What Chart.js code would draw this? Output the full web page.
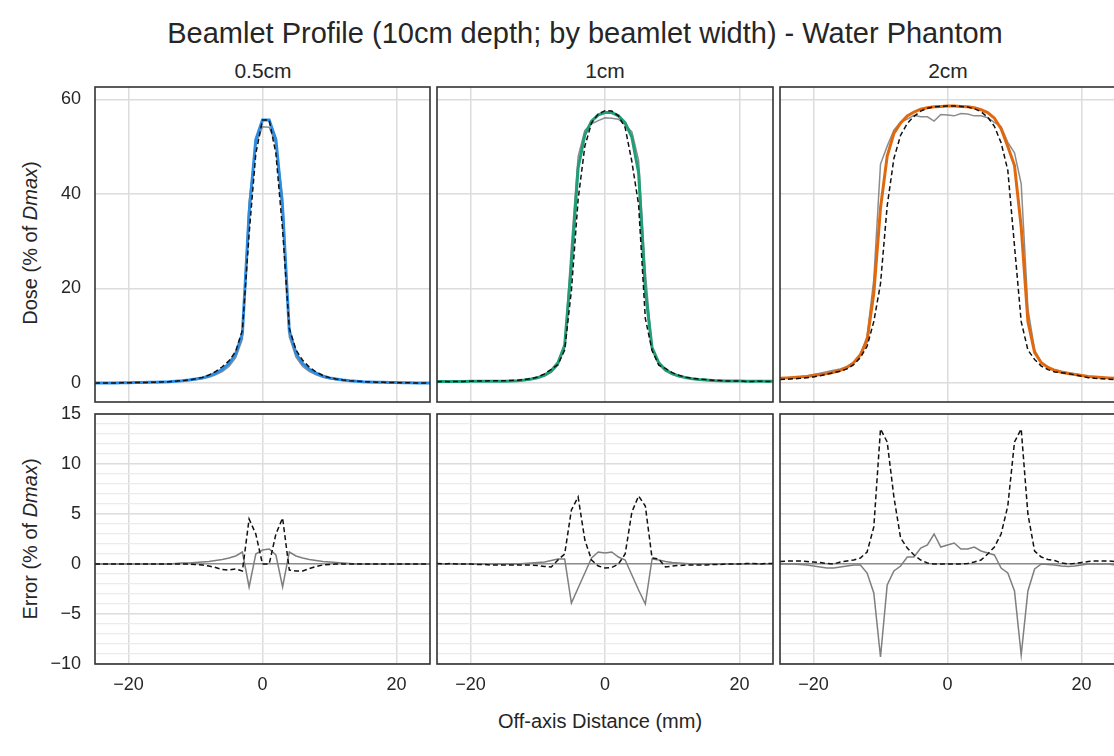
<!DOCTYPE html>
<html><head><meta charset="utf-8">
<script src="https://cdn.jsdelivr.net/npm/chart.js@4.4.1/dist/chart.umd.min.js"></script>
<style>
html,body{margin:0;padding:0;background:#fff;overflow:hidden;}
#fig{position:relative;width:1114px;height:756px;overflow:hidden;background:#fff;font-family:"Liberation Sans",Arial,sans-serif;color:#262626;}
#fig canvas{position:absolute;}
.t{position:absolute;white-space:nowrap;transform:translate(-50%,-50%);}
.yl{position:absolute;white-space:nowrap;transform:translate(-50%,-50%) rotate(-90deg);}
</style></head><body>
<div id="fig">
  <div class="t" style="left:585px;top:33px;font-size:29px">Beamlet Profile (10cm depth; by beamlet width) - Water Phantom</div>
  <div class="t" style="left:263px;top:71px;font-size:21px">0.5cm</div>
  <div class="t" style="left:605px;top:71px;font-size:21px">1cm</div>
  <div class="t" style="left:948px;top:71px;font-size:21px">2cm</div>
  <div class="yl" style="left:30px;top:243px;font-size:20px">Dose (% of <i>Dmax</i>)</div>
  <div class="yl" style="left:30px;top:539px;font-size:20px">Error (% of <i>Dmax</i>)</div>
  <div class="t" style="left:600px;top:721px;font-size:20px">Off-axis Distance (mm)</div>
</div>
<script>
// ---------- data (x in mm, values in % of Dmax) ----------
const xs = [-25,-24,-23,-22,-21,-20,-19,-18,-17,-16,-15,-14,-13,-12,-11,-10,-9,-8,-7,-6,-5,-4,-3,-2,-1,0,1,2,3,4,5,6,7,8,9,10,11,12,13,14,15,16,17,18,19,20,21,22,23,24,25];
const panelTitles = ['0.5cm','1cm','2cm'];
const xTicks = [-20,0,20];
const doseTicks = [0,20,40,60];
const errMajorTicks = [-10,-5,0,5,10,15];

// 0.5cm beamlet
const model05 = [0,0,0,0,0.05,0.05,0.1,0.1,0.15,0.2,
  0.25,0.3,0.4,0.5,0.65,0.85,1.1,1.5,2.1,2.9,
  4.1,6.2,10.5,36.0,51.5,55.6,55.6,51.5,37.0,11.0,
  6.3,4.1,2.9,2.1,1.5,1.1,0.85,0.65,0.5,0.4,
  0.3,0.25,0.2,0.15,0.1,0.1,0.05,0.05,0,0,0];
const meas05 = [0,0,0,0,0.05,0.05,0.1,0.1,0.15,0.2,
  0.25,0.3,0.35,0.4,0.55,0.7,0.9,1.25,1.75,2.45,
  3.5,5.4,9.3,38.3,50.5,54.2,54.1,50.6,39.3,9.8,
  5.5,3.5,2.45,1.75,1.25,0.9,0.7,0.55,0.45,0.4,
  0.3,0.25,0.2,0.15,0.1,0.1,0.05,0.05,0,0,0];
const ref05 = [0,0,0,0,0.05,0.05,0.1,0.1,0.15,0.2,
  0.25,0.3,0.4,0.5,0.65,0.9,1.2,1.7,2.45,3.45,
  4.7,6.7,11.2,31.5,48.5,55.6,55.6,48.5,32.4,11.6,
  7.0,4.8,3.35,2.35,1.6,1.15,0.85,0.65,0.5,0.4,
  0.3,0.25,0.2,0.15,0.1,0.1,0.05,0.05,0,0,0];
const errMeas05 = [0,0,0,0,0,0,0,0,0,0,
  0,0,0.05,0.1,0.1,0.15,0.2,0.25,0.35,0.45,
  0.6,0.8,1.2,-2.3,1.0,1.4,1.5,0.9,-2.3,1.2,
  0.8,0.6,0.45,0.35,0.25,0.2,0.15,0.1,0.05,0,
  0,0,0,0,0,0,0,0,0,0,0];
const errRef05 = [0,0,0,0,0,0,0,0,0,0,
  0,0,0,0,0,-0.05,-0.1,-0.2,-0.35,-0.55,
  -0.6,-0.5,-0.7,4.5,3.0,0,0,3.0,4.6,-0.6,
  -0.7,-0.7,-0.45,-0.25,-0.1,-0.05,0,0,0,0,
  0,0,0,0,0,0,0,0,0,0,0];

// 1cm beamlet
const model1 = [0.35,0.35,0.35,0.35,0.35,0.4,0.4,0.4,0.4,0.4,
  0.4,0.45,0.5,0.65,0.85,1.15,1.7,2.6,4.3,8.0,
  25.0,45.5,52.5,55.4,56.7,57.2,57.2,56.5,55.0,52.0,
  44.5,19.5,7.5,4.3,2.8,2.0,1.5,1.15,0.9,0.75,
  0.65,0.55,0.5,0.45,0.45,0.45,0.4,0.4,0.4,0.4,0.4];
const meas1 = [0.35,0.35,0.35,0.35,0.35,0.4,0.4,0.4,0.4,0.4,
  0.4,0.45,0.5,0.6,0.75,1.0,1.5,2.25,3.8,7.5,
  28.9,47.9,53.4,54.8,55.5,56.1,56.0,55.8,54.6,53.1,
  47.1,23.5,7.0,3.9,2.55,1.85,1.4,1.1,0.9,0.75,
  0.65,0.55,0.5,0.45,0.45,0.45,0.4,0.4,0.4,0.4,0.4];
const ref1 = [0.3,0.35,0.3,0.35,0.35,0.4,0.45,0.45,0.5,0.5,
  0.5,0.55,0.6,0.75,0.95,1.3,1.95,2.9,3.9,7.0,
  19.6,38.8,50.1,55.0,56.9,57.6,57.55,56.5,54.0,46.8,
  37.7,13.7,6.9,3.8,3.1,2.2,1.65,1.25,1.0,0.85,
  0.75,0.6,0.55,0.45,0.45,0.45,0.35,0.35,0.4,0.35,0.35];
const errMeas1 = [0,0,0,0,0,0,0,0,0,0,
  0,0,0,0.05,0.1,0.15,0.2,0.35,0.5,0.5,
  -3.9,-2.4,-0.9,0.6,1.2,1.1,1.2,0.7,0.4,-1.1,
  -2.6,-4.0,0.5,0.4,0.25,0.15,0.1,0.05,0,0,
  0,0,0,0,0,0,0,0,0,0,0];
const errRef1 = [0.05,0,0.05,0,0,0,-0.05,-0.05,-0.1,-0.1,
  -0.1,-0.1,-0.1,-0.1,-0.1,-0.15,-0.25,-0.3,0.4,1.0,
  5.4,6.7,2.4,0.4,-0.2,-0.4,-0.35,0,1.0,5.2,
  6.8,5.8,0.6,0.5,-0.3,-0.2,-0.15,-0.1,-0.1,-0.1,
  -0.1,-0.05,-0.05,0,0,0,0.05,0.05,0,0.05,0.05];

// 2cm beamlet
const model2 = [1.0,1.1,1.2,1.3,1.4,1.6,1.8,2.0,2.3,2.7,
  3.3,4.3,6.0,9.0,19.0,37.0,48.0,52.8,55.0,56.5,
  57.3,57.9,58.2,58.4,58.5,58.6,58.6,58.5,58.4,58.2,
  57.8,57.2,56.0,53.8,50.0,46.0,33.0,13.0,6.5,4.3,
  3.3,2.7,2.3,2.0,1.8,1.6,1.4,1.3,1.2,1.1,1.0];
const meas2 = [1.0,1.1,1.2,1.35,1.5,1.8,2.1,2.4,2.7,3.0,
  3.5,4.4,6.1,9.9,21.9,46.3,50.1,53.5,55.2,55.8,
  56.6,56.3,56.3,55.4,56.8,56.7,56.5,57.0,56.9,56.5,
  56.5,56.1,55.1,54.2,50.9,48.7,42.1,15.7,7.0,4.3,
  3.35,2.8,2.5,2.25,2.0,1.7,1.4,1.3,1.2,1.1,1.1];
const ref2 = [0.75,0.8,0.9,1.0,1.15,1.3,1.55,1.9,2.2,2.5,
  3.0,3.9,5.4,7.8,13.0,21.0,37.5,47.5,52.4,54.9,
  56.4,57.5,58.1,58.4,58.5,58.6,58.6,58.5,58.35,58.0,
  57.4,56.2,54.3,50.8,45.0,29.0,13.0,7.0,5.0,3.6,
  2.85,2.35,2.2,2.0,1.75,1.45,1.15,1.0,0.9,0.8,0.75];
const errMeas2 = [0,0,0,-0.05,-0.1,-0.2,-0.3,-0.4,-0.4,-0.3,
  -0.2,-0.1,-0.1,-0.9,-2.9,-9.3,-2.1,-0.7,-0.2,0.7,
  0.7,1.6,1.9,3.0,1.7,1.9,2.1,1.5,1.5,1.7,
  1.3,1.1,0.9,-0.4,-0.9,-2.7,-9.1,-2.7,-0.5,0,
  -0.05,-0.1,-0.2,-0.25,-0.2,-0.1,0,0,0,0,-0.1];
const errRef2 = [0.25,0.3,0.3,0.3,0.25,0.2,0.15,0.05,0,0.2,
  0.3,0.4,0.6,1.2,3.7,13.5,12.2,6.7,2.6,1.6,
  0.9,0.4,0.1,0,0,0,0,0,0.05,0.2,
  0.4,1.0,1.7,3.0,5.8,12.2,13.5,5.0,1.3,0.7,
  0.45,0.35,0.1,0,0.05,0.15,0.25,0.3,0.3,0.3,0.25];

// ---------- layout / styles ----------
const modelColors = ['#2b8ce4','#1f9e78','#e0690f'];
const colLeft = [95, 437, 780], colWidth = [335, 336, 335];
const rows = {top:{top:87,h:315,min:-4,max:62.6}, bottom:{top:414,h:250,min:-10,max:15}};
const PAD = 12, YW = 50, XH = 40;
const TXT = '#262626', GRID = '#dcdcdc', MINOR = '#ececec', FRAME = '#333333';
Chart.defaults.font.family = '"Liberation Sans", Arial, sans-serif';

const pts = arr => xs.map((x, i) => ({x: x, y: arr[i]}));
const fmt = v => (v < 0 ? '\u2212' + Math.abs(v) : String(v));

const framePlugin = {
  id: 'frame',
  afterDraw(chart) {
    const a = chart.chartArea, ctx = chart.ctx;
    ctx.save();
    ctx.strokeStyle = FRAME; ctx.lineWidth = 1.6;
    ctx.strokeRect(a.left, a.top, a.right - a.left, a.bottom - a.top);
    ctx.restore();
  }
};

function makeChart(rowKey, col, datasets) {
  const r = rows[rowKey];
  const yw = col === 0 ? YW : 0;
  const xh = rowKey === 'bottom' ? XH : 0;
  const cv = document.createElement('canvas');
  const w = colWidth[col] + 2 * PAD + yw, h = r.h + 2 * PAD + xh;
  cv.width = w; cv.height = h;
  cv.style.width = w + 'px'; cv.style.height = h + 'px';
  cv.style.left = (colLeft[col] - PAD - yw) + 'px';
  cv.style.top = (r.top - PAD) + 'px';
  document.getElementById('fig').appendChild(cv);

  const isErr = rowKey === 'bottom';
  new Chart(cv.getContext('2d'), {
    type: 'line',
    data: {datasets: datasets},
    options: {
      responsive: false, animation: false, devicePixelRatio: 1,
      layout: {padding: PAD},
      plugins: {legend: {display: false}, tooltip: {enabled: false}},
      elements: {point: {radius: 0}, line: {tension: 0}},
      scales: {
        x: {
          type: 'linear', min: -25, max: 25,
          afterBuildTicks: s => { s.ticks = xTicks.map(v => ({value: v})); },
          ticks: {display: isErr, autoSkip: false, maxRotation: 0, padding: 10,
                  color: TXT, font: {size: 18}, callback: v => fmt(v)},
          grid: {color: GRID, lineWidth: 1.5, drawTicks: false},
          border: {display: false},
          afterFit: s => { s.height = xh; s.paddingLeft = 0; s.paddingRight = 0; }
        },
        y: {
          type: 'linear', min: r.min, max: r.max,
          afterBuildTicks: s => {
            if (isErr) {
              const t = [];
              for (let v = r.min; v <= r.max; v++) t.push({value: v});
              s.ticks = t;
            } else {
              s.ticks = doseTicks.map(v => ({value: v}));
            }
          },
          ticks: {display: col === 0, autoSkip: false, padding: 14, color: TXT, font: {size: 18},
                  callback: v => (!isErr || errMajorTicks.includes(v)) ? fmt(v) : ''},
          grid: {
            drawTicks: false,
            color: c => {
              const v = c.tick ? c.tick.value : 0;
              if (!isErr) return GRID;
              if (v === 0) return '#8c8c8c';
              return v % 5 === 0 ? GRID : MINOR;
            },
            lineWidth: c => {
              const v = c.tick ? c.tick.value : 0;
              if (!isErr) return 1.5;
              return v % 5 === 0 ? 1.5 : 1.2;
            }
          },
          border: {display: false},
          afterFit: s => { s.width = yw; s.paddingTop = 0; s.paddingBottom = 0; }
        }
      }
    },
    plugins: [framePlugin]
  });
}

const models = [model05, model1, model2];
const meass = [meas05, meas1, meas2];
const refs = [ref05, ref1, ref2];
const errMeas = [errMeas05, errMeas1, errMeas2];
const errRefs = [errRef05, errRef1, errRef2];

for (let c = 0; c < 3; c++) {
  makeChart('top', c, [
    {label: 'reference', data: pts(refs[c]), borderColor: '#111111', borderWidth: 1.5, borderDash: [5, 3], order: 0},
    {label: 'model ' + panelTitles[c], data: pts(models[c]), borderColor: modelColors[c], borderWidth: 3, order: 1},
    {label: 'measured', data: pts(meass[c]), borderColor: 'rgba(120,120,120,0.85)', borderWidth: 1.5, order: 2}
  ]);
  makeChart('bottom', c, [
    {label: 'reference error', data: pts(errRefs[c]), borderColor: '#111111', borderWidth: 1.5, borderDash: [5, 3], order: 0},
    {label: 'model error', data: pts(errMeas[c]), borderColor: '#7f7f7f', borderWidth: 1.5, order: 1}
  ]);
}
</script>
</body></html>
